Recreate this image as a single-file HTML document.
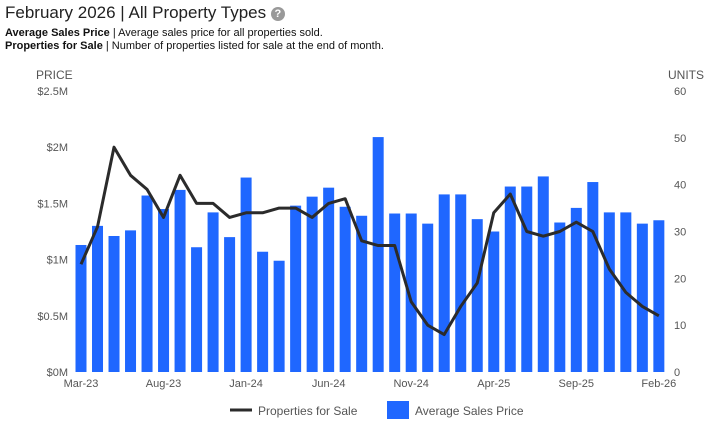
<!DOCTYPE html>
<html><head><meta charset="utf-8"><style>
body{margin:0;width:719px;height:435px;background:#fff;font-family:"Liberation Sans",sans-serif;overflow:hidden}
.t{position:absolute;left:5px;top:3px;font-size:17px;color:#222}
.s{position:absolute;left:5px;font-size:11px;color:#111}
</style></head><body>
<div class="t">February 2026 | All Property Types <span style="display:inline-block;width:14px;height:14px;border-radius:50%;background:#999;color:#fff;font-size:11px;text-align:center;line-height:14px;font-weight:bold;vertical-align:1px">?</span></div>
<div class="s" style="top:27px"><b>Average Sales Price</b> | Average sales price for all properties sold.</div>
<div class="s" style="top:40px"><b>Properties for Sale</b> | Number of properties listed for sale at the end of month.</div>
<svg id="c" width="719" height="435" style="position:absolute;left:0;top:0"></svg>
<script>
const months=["Mar-23","Aug-23","Jan-24","Jun-24","Nov-24","Apr-25","Sep-25","Feb-26"];
const prices=[1.13,1.30,1.21,1.26,1.57,1.45,1.62,1.11,1.42,1.20,1.73,1.07,0.99,1.48,1.56,1.64,1.47,1.39,2.09,1.41,1.41,1.32,1.58,1.58,1.36,1.25,1.65,1.65,1.74,1.33,1.46,1.69,1.42,1.42,1.32,1.35];
const units=[23,31,48,42,39,33,42,36,36,33,34,34,35,35,33,36,37,28,27,27,15,10,8,14,19,34,38,30,29,30,32,30,22,17,14,12];
const priceTicks=["$0M","$0.5M","$1M","$1.5M","$2M","$2.5M"];
const unitTicks=["0","10","20","30","40","50","60"];
const svg=document.getElementById('c');const NS="http://www.w3.org/2000/svg";
const x=i=>81+i*16.51, yP=v=>372-v*112.4, yU=v=>372-v*281/60;
function mk(t,a,txt){const e=document.createElementNS(NS,t);for(const k in a)e.setAttribute(k,a[k]);if(txt!=null)e.textContent=txt;svg.appendChild(e);return e;}
let e;
e=mk('text',{x:36,y:79,'font-size':12,fill:'#555'},'PRICE');


e=mk('text',{x:668,y:79,'font-size':12,fill:'#555'},'UNITS');


priceTicks.forEach((t,i)=>{e=mk('text',{x:68,y:yP(i*0.5)+4,'font-size':11,fill:'#555','text-anchor':'end'},t);

});
unitTicks.forEach((t,i)=>{e=mk('text',{x:674,y:yU(i*10)+4,'font-size':11,fill:'#555'},t);

});
prices.forEach((v,i)=>{e=mk('rect',{x:x(i)-5.5,y:yP(v),width:11,height:372-yP(v),fill:'#1f67ff'});

});
e=mk('polyline',{points:units.map((v,i)=>x(i)+','+yU(v)).join(' '),fill:'none',stroke:'#2b2b2b','stroke-width':3,'stroke-linejoin':'round'});


months.forEach((m,i)=>{e=mk('text',{x:x(i*5),y:387,'font-size':11,fill:'#555','text-anchor':'middle'},m);

});
e=mk('line',{x1:230,x2:252,y1:410,y2:410,stroke:'#2b2b2b','stroke-width':3});


e=mk('text',{x:258,y:415,'font-size':12,fill:'#555'},'Properties for Sale');


e=mk('rect',{x:387,y:401,width:22,height:18,fill:'#1f67ff'});


e=mk('text',{x:415,y:415,'font-size':12,fill:'#555'},'Average Sales Price');


</script>
</body></html>
